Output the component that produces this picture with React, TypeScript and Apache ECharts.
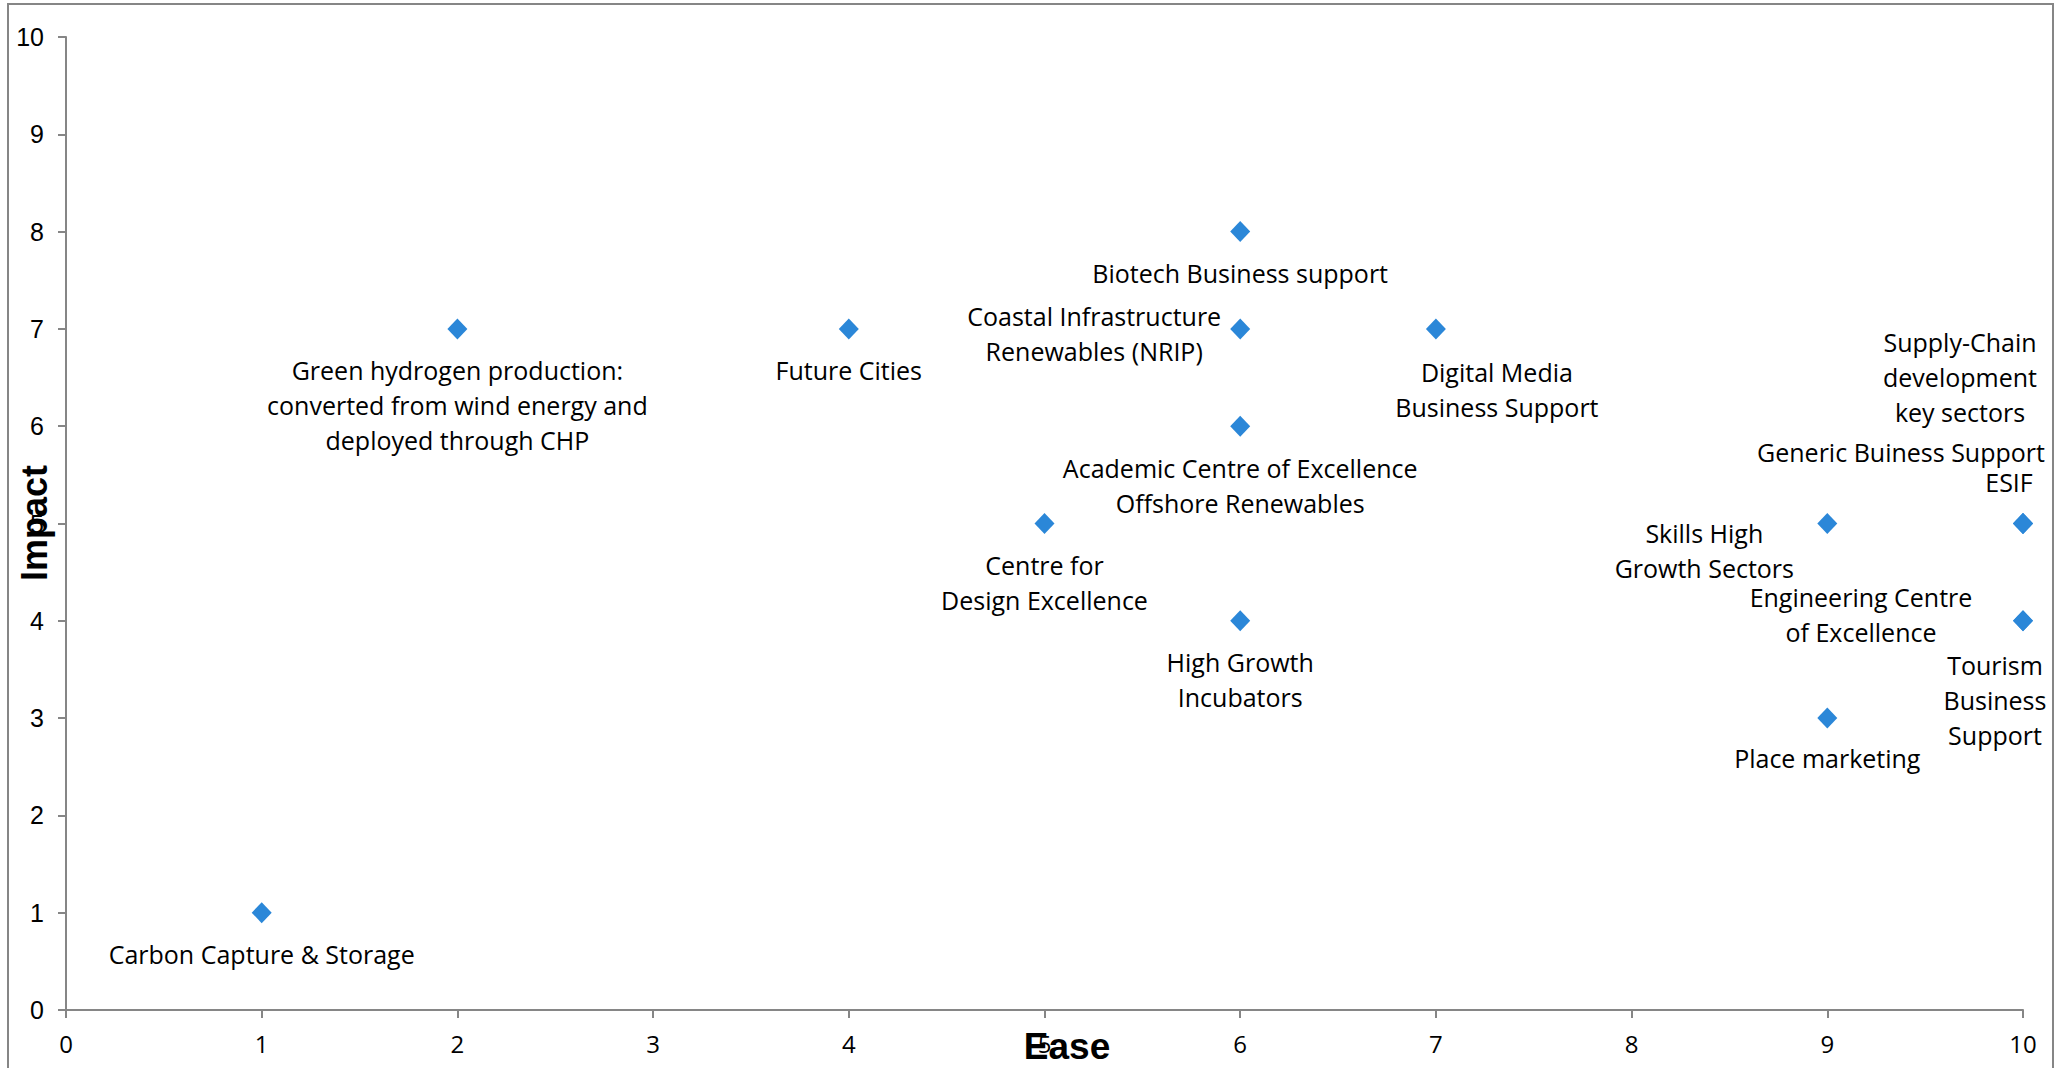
import React, { useEffect, useRef } from "react";
import * as echarts from "echarts";

// Data
const names: string[] = [
  "Carbon Capture & Storage",
  "Green hydrogen production:\nconverted from wind energy and\ndeployed through CHP",
  "Future Cities",
  "Centre for\nDesign Excellence",
  "Biotech Business support",
  "Coastal Infrastructure\nRenewables (NRIP)",
  "Academic Centre of Excellence\nOffshore Renewables",
  "High Growth\nIncubators",
  "Digital Media\nBusiness Support",
  "Skills High\nGrowth Sectors",
  "Place marketing",
  "Supply-Chain\ndevelopment\nkey sectors",
  "Generic Buiness Support",
  "ESIF",
  "Engineering Centre\nof Excellence",
  "Tourism\nBusiness\nSupport",
];
const ease: number[] = [1, 2, 4, 5, 6, 6, 6, 6, 7, 9, 9, 10, 10, 10, 10, 10];
const impact: number[] = [1, 7, 7, 5, 8, 7, 6, 4, 7, 5, 3, 5, 5, 5, 4, 4];
const xTicks: number[] = [0, 1, 2, 3, 4, 5, 6, 7, 8, 9, 10];
const yTicks: number[] = [0, 1, 2, 3, 4, 5, 6, 7, 8, 9, 10];

// Label placement (pixel offsets of the label centre from its marker)
const labelOffsets: [number, number][] = [
  [0, 41],
  [0, 76],
  [0, 41],
  [0, 59],
  [0, 41],
  [-146, 5],
  [0, 59],
  [0, 59],
  [61, 61],
  [-123, 27],
  [0, 40],
  [-63, -147],
  [-122, -72],
  [-14, -42],
  [-162, -6],
  [-28, 79],
];

const AXIS = "#868686";
const BLUE = "#2b87d8";

export default function App() {
  const ref = useRef<HTMLDivElement>(null);
  useEffect(() => {
    if (!ref.current) return;
    const chart = echarts.init(ref.current, null, { renderer: "svg" });
    const data = names.map((n, i) => ({
      name: n,
      value: [ease[i], impact[i]],
    }));
    chart.setOption({
      animation: false,
      backgroundColor: "#ffffff",
      grid: { left: 66, right: 37, top: 37, bottom: 58, containLabel: false },
      xAxis: {
        type: "value",
        min: xTicks[0],
        max: xTicks[xTicks.length - 1],
        interval: 1,
        axisLine: { show: true, onZero: false, lineStyle: { color: AXIS, width: 2 } },
        axisTick: { show: true, inside: false, length: 8, lineStyle: { color: AXIS, width: 2 } },
        splitLine: { show: false },
        axisLabel: {
          margin: 21,
          fontFamily: "Open Sans",
          fontSize: 24,
          color: "#000000",
        },
      },
      yAxis: {
        type: "value",
        min: yTicks[0],
        max: yTicks[yTicks.length - 1],
        interval: 1,
        axisLine: { show: true, onZero: false, lineStyle: { color: AXIS, width: 2 } },
        axisTick: { show: true, inside: false, length: 8, lineStyle: { color: AXIS, width: 2 } },
        splitLine: { show: false },
        axisLabel: {
          margin: 22,
          fontFamily: "Liberation Sans",
          fontSize: 25,
          color: "#000000",
        },
      },
      graphic: [
        {
          type: "rect",
          shape: { x: 8, y: 4, width: 2045, height: 1090 },
          style: { fill: "none", stroke: AXIS, lineWidth: 2 },
          silent: true,
          z: 0,
        },
        {
          type: "text",
          x: 34,
          y: 523,
          rotation: Math.PI / 2,
          style: {
            text: "Impact",
            fontFamily: "Liberation Sans",
            fontWeight: "bold",
            fontSize: 36,
            fill: "#000000",
            align: "center",
            verticalAlign: "middle",
          },
          z: 100,
        },
        {
          type: "text",
          x: 1067,
          y: 1046,
          style: {
            text: "Ease",
            fontFamily: "Liberation Sans",
            fontWeight: "bold",
            fontSize: 37,
            fill: "#000000",
            align: "center",
            verticalAlign: "middle",
          },
          z: 100,
        },
      ],
      series: [
        {
          type: "scatter",
          symbol: "diamond",
          symbolSize: [20, 21],
          itemStyle: { color: BLUE, opacity: 1 },
          label: {
            show: true,
            position: "inside",
            formatter: "{b}",
            fontFamily: "Open Sans",
            fontSize: 25,
            lineHeight: 35,
            color: "#000000",
          },
          labelLayout: (params: any) => {
            const o = labelOffsets[params.dataIndex] || [0, 0];
            return { dx: o[0], dy: o[1], hideOverlap: false };
          },
          data,
        },
      ],
    });
    return () => chart.dispose();
  }, []);
  return (
    <div
      ref={ref}
      style={{ position: "absolute", left: 0, top: 0, width: 2060, height: 1068 }}
    />
  );
}
